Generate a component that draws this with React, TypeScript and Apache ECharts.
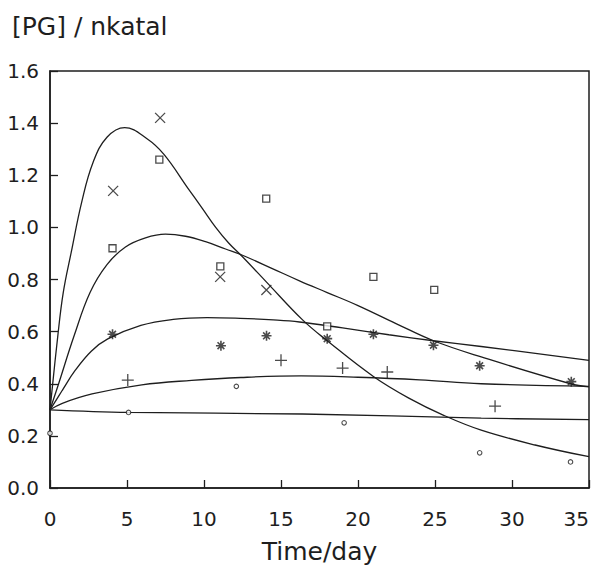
import React, { useEffect, useRef } from "react";
import * as echarts from "echarts";

// Measured points (time in days, [PG] in nkatal)
const crossPts: number[][] = [[4.1, 1.14], [7.15, 1.42], [11.05, 0.81], [14.05, 0.76]];
const squarePts: number[][] = [[4.06, 0.92], [7.1, 1.26], [11.06, 0.85], [14.04, 1.11], [18.0, 0.62], [21.0, 0.81], [24.95, 0.76]];
const starPts: number[][] = [[4.06, 0.59], [11.1, 0.546], [14.06, 0.584], [18.0, 0.573], [21.0, 0.59], [24.9, 0.548], [27.9, 0.469], [33.85, 0.408]];
const plusPts: number[][] = [[5.05, 0.414], [15.0, 0.49], [19.0, 0.46], [21.9, 0.445], [28.9, 0.314]];
const circlePts: number[][] = [[0, 0.21], [5.1, 0.29], [12.1, 0.39], [19.1, 0.25], [27.9, 0.135], [33.8, 0.1]];

// Fitted curves
const crossFit: number[][] = [[0, 0.3], [0.5, 0.58], [0.86, 0.75], [1.38, 0.905], [2.07, 1.1], [2.8, 1.25], [3.7, 1.346], [4.85, 1.383], [6.3, 1.34], [7.4, 1.28], [8.96, 1.15], [9.9, 1.072], [10.76, 1.0], [11.6, 0.94], [12.5, 0.887], [14.06, 0.79], [16.4, 0.645], [18, 0.565], [21, 0.428], [23.3, 0.345], [25.6, 0.278], [28, 0.222], [31.5, 0.165], [35, 0.12]];
const squareFit: number[][] = [[0, 0.3], [0.56, 0.4], [1.56, 0.583], [2.6, 0.75], [3.7, 0.857], [4.9, 0.925], [6.2, 0.96], [7.5, 0.974], [8.8, 0.966], [10.1, 0.945], [11.4, 0.917], [12.5, 0.893], [14.4, 0.843], [16.2, 0.795], [18, 0.75], [20, 0.7], [22.5, 0.63], [24.9, 0.565], [28, 0.503], [33.8, 0.4], [35, 0.388]];
const starFit: number[][] = [[0, 0.3], [0.79, 0.374], [1.62, 0.45], [2.68, 0.525], [3.75, 0.572], [5.9, 0.624], [8.0, 0.647], [10.2, 0.654], [12.35, 0.651], [14.5, 0.645], [16.2, 0.637], [19, 0.614], [22, 0.588], [24.9, 0.565], [28, 0.543], [35, 0.49]];
const plusFit: number[][] = [[0, 0.3], [0.8, 0.325], [2.73, 0.361], [5.96, 0.396], [9.2, 0.413], [12.4, 0.424], [16.3, 0.43], [20, 0.425], [24, 0.415], [28, 0.4], [35, 0.39]];
const circleFit: number[][] = [[0, 0.3], [5.1, 0.29], [16.4, 0.284], [28, 0.268], [35, 0.262]];

const xTicks = { min: 0, max: 35, interval: 5 };
const yTicks = { min: 0, max: 1.6, interval: 0.2 };

const INK = "#1e1e1e";
const FONT = '"DejaVu Sans", sans-serif';

const SYM_CROSS = "path://M0,0L10,10M10,0L0,10";
const SYM_PLUS = "path://M5,0L5,10M0,5L10,5";
const SYM_STAR = "path://M5,0L5,10M0,5L10,5M1.6,1.6L8.4,8.4M8.4,1.6L1.6,8.4";

export default function App() {
  const ref = useRef<HTMLDivElement>(null);
  useEffect(() => {
    if (!ref.current) return;
    const chart = echarts.init(ref.current, null, { renderer: "svg" });
    const strokeSym = { color: "none", borderColor: INK, borderWidth: 1.3 };
    const fitLine = (data: number[][]) => ({
      type: "line",
      data,
      smooth: 0.4,
      showSymbol: false,
      silent: true,
      lineStyle: { color: INK, width: 1.3 },
      z: 2,
    });
    const scatter = (data: number[][], symbol: string, size: number, itemStyle: any) => ({
      type: "scatter",
      data,
      symbol,
      symbolSize: size,
      itemStyle,
      z: 3,
    });
    chart.setOption({
      animation: false,
      backgroundColor: "#ffffff",
      grid: {
        left: 50,
        right: 3,
        top: 71,
        bottom: 85,
        show: true,
        borderColor: INK,
        borderWidth: 1.5,
        backgroundColor: "transparent",
      },
      graphic: [
        {
          type: "text",
          left: 12,
          top: 14,
          style: { text: "[PG] / nkatal", font: `25px ${FONT}`, fill: INK },
        },
      ],
      xAxis: {
        type: "value",
        min: xTicks.min,
        max: xTicks.max,
        interval: xTicks.interval,
        name: "Time/day",
        nameLocation: "middle",
        nameGap: 51,
        nameTextStyle: { fontFamily: FONT, fontSize: 25, color: INK },
        axisLine: { show: true, lineStyle: { color: INK, width: 1.5 } },
        axisTick: { show: true, inside: true, length: 8, lineStyle: { color: INK, width: 1.3 } },
        axisLabel: {
          margin: 21,
          fontFamily: FONT,
          fontSize: 20,
          color: INK,
          alignMaxLabel: "right",
        },
        splitLine: { show: false },
      },
      yAxis: {
        type: "value",
        min: yTicks.min,
        max: yTicks.max,
        interval: yTicks.interval,
        axisLine: { show: true, lineStyle: { color: INK, width: 1.5 } },
        axisTick: { show: true, inside: true, length: 8, lineStyle: { color: INK, width: 1.3 } },
        axisLabel: {
          margin: 11,
          fontFamily: FONT,
          fontSize: 20,
          color: INK,
          formatter: (v: number) => v.toFixed(1),
        },
        splitLine: { show: false },
      },
      series: [
        fitLine(crossFit),
        fitLine(squareFit),
        fitLine(starFit),
        fitLine(plusFit),
        fitLine(circleFit),
        scatter(crossPts, SYM_CROSS, 10, strokeSym),
        scatter(squarePts, "rect", 7, { color: "#ffffff", borderColor: INK, borderWidth: 1.3 }),
        scatter(starPts, SYM_STAR, 10, { color: "none", borderColor: INK, borderWidth: 1.6 }),
        scatter(plusPts, SYM_PLUS, 12, strokeSym),
        scatter(circlePts, "circle", 4.5, { color: "#ffffff", borderColor: INK, borderWidth: 1.1 }),
      ],
    });
    return () => chart.dispose();
  }, []);
  return (
    <div
      ref={ref}
      style={{ position: "fixed", left: 0, top: 0, width: 592, height: 573, background: "#fff" }}
    />
  );
}
